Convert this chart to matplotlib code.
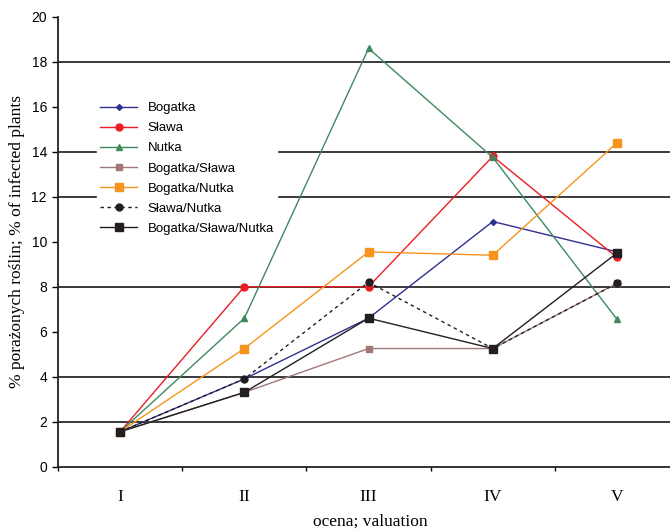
import numpy as np
import matplotlib
matplotlib.use("Agg")
import matplotlib.pyplot as plt
from matplotlib.ticker import FixedLocator

# dane
oceny = ['I', 'II', 'III', 'IV', 'V']
bogatka = [1.55, 3.9, 6.6, 10.9, 9.55]
slawa = [1.55, 8.0, 8.0, 13.8, 9.3]
nutka = [1.55, 6.6, 18.6, 13.75, 6.55]
bogatka_slawa = [1.55, 3.3, 5.25, 5.25, 8.15]
bogatka_nutka = [1.55, 5.25, 9.55, 9.4, 14.4]
slawa_nutka = [1.55, 3.9, 8.2, 5.25, 8.15]
bogatka_slawa_nutka = [1.55, 3.3, 6.6, 5.25, 9.5]

serie = [
    ('Bogatka', bogatka, '#2E3192', 'D', '-', 3),
    ('Sława', slawa, '#ED1C24', 'o', '-', 5),
    ('Nutka', nutka, '#3E8A5E', '^', '-', 5),
    ('Bogatka/Sława', bogatka_slawa, '#A07878', 's', '-', 5),
    ('Bogatka/Nutka', bogatka_nutka, '#F7941D', 's', '-', 6),
    ('Sława/Nutka', slawa_nutka, '#231F20', 'o', (0, (2.5, 2.5)), 5),
    ('Bogatka/Sława/Nutka', bogatka_slawa_nutka, '#231F20', 's', '-', 6),
]

fig = plt.figure(figsize=(6.7, 5.29), dpi=100)
ax = fig.add_axes([0.0866, 0.118, 0.927, 0.850])

x = np.arange(len(oceny))

# linie siatki tylko na wybranych poziomach
for yv in [2, 4, 8, 12, 14, 18]:
    ax.axhline(yv, color='#3a3a3a', lw=1.4, zorder=1)

for nazwa, dane, kolor, marker, ls, ms in serie:
    ax.plot(x, dane, color=kolor, marker=marker, ls=ls, lw=1.0, ms=ms,
            label=nazwa, zorder=3)

ax.set_xlim(-0.5, 4.5)
ax.set_ylim(0, 20)
ax.set_yticks(np.arange(0, 21, 2))
ax.set_xticks(x)
ax.set_xticklabels(oceny, fontfamily='Liberation Serif', fontsize=12.5)
ax.xaxis.set_minor_locator(FixedLocator(np.arange(-0.5, 5, 1)))
ax.tick_params(axis='x', which='major', length=0, pad=16)
ax.tick_params(axis='x', which='minor', length=3, width=1, direction='out')
ax.tick_params(axis='y', length=4, width=1, direction='out', pad=4,
               labelsize=10)
for lab in ax.get_yticklabels():
    lab.set_fontfamily('Liberation Sans')

ax.spines['top'].set_visible(False)
ax.spines['right'].set_visible(False)
ax.spines['left'].set_linewidth(1.3)
ax.spines['bottom'].set_linewidth(1.3)
ax.spines['left'].set_color('#222222')
ax.spines['bottom'].set_color('#222222')

ax.set_xlabel('ocena; valuation', fontfamily='Liberation Serif',
              fontsize=12.5)
ax.xaxis.set_label_coords(0.503, -0.122)
ax.xaxis.label.set_va('center')
ax.set_ylabel('% porażonych roślin; % of infected plants',
              fontfamily='Liberation Serif', fontsize=12.5)
ax.yaxis.set_label_coords(-0.066, 0.5)
ax.yaxis.label.set_va('center')

leg = ax.legend(loc='upper left', bbox_to_anchor=(0.052, 0.833),
                frameon=True, framealpha=1, edgecolor='white',
                facecolor='white', fancybox=False, handlelength=2.8,
                labelspacing=0.6, borderpad=0.25, handletextpad=0.8,
                prop={'family': 'Liberation Sans', 'size': 9.5})
leg.set_zorder(5)

fig.savefig('out.png', dpi=100)
